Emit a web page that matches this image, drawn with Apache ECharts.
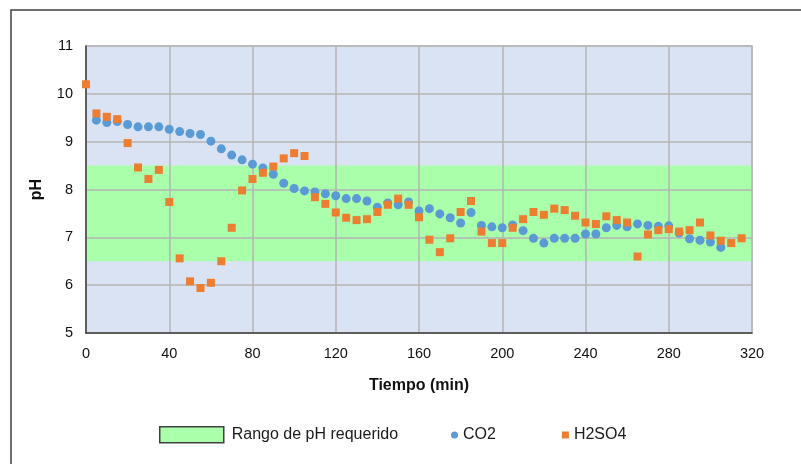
<!DOCTYPE html>
<html lang="es">
<head>
    <meta charset="UTF-8">
    <title>pH vs tiempo</title>
    <script src="https://cdn.jsdelivr.net/npm/echarts@6/dist/echarts.min.js"></script>
    <style>
        html, body { margin: 0; padding: 0; background: #fff; }
        #chart { width: 801px; height: 464px; }
    </style>
</head>
<body>
<div id="chart"></div>
<script>
    // tiempos (min) y valores de pH
    var tiempoCO2 = [5, 10, 15, 20, 25, 30, 35, 40, 45, 50, 55, 60, 65, 70, 75, 80, 85, 90, 95, 100,
        105, 110, 115, 120, 125, 130, 135, 140, 145, 150, 155, 160, 165, 170, 175, 180, 185, 190, 195, 200,
        205, 210, 215, 220, 225, 230, 235, 240, 245, 250, 255, 260, 265, 270, 275, 280, 285, 290, 295, 300, 305]
    var phCO2 = [9.45, 9.40, 9.42, 9.36, 9.31, 9.31, 9.31, 9.26, 9.21, 9.17, 9.15, 9.01, 8.85, 8.72, 8.62, 8.53, 8.45, 8.32, 8.13, 8.02,
        7.97, 7.95, 7.91, 7.87, 7.81, 7.81, 7.76, 7.63, 7.72, 7.68, 7.74, 7.55, 7.60, 7.49, 7.41, 7.30, 7.52, 7.25, 7.22, 7.20,
        7.26, 7.14, 6.98, 6.88, 6.98, 6.98, 6.98, 7.07, 7.07, 7.20, 7.25, 7.22, 7.28, 7.25, 7.23, 7.24, 7.09, 6.97, 6.94, 6.90, 6.79]

    var tiempoH2SO4 = [0, 5, 10, 15, 20, 25, 30, 35, 40, 45, 50, 55, 60, 65, 70, 75, 80, 85, 90, 95,
        100, 105, 110, 115, 120, 125, 130, 135, 140, 145, 150, 155, 160, 165, 170, 175, 180, 185, 190, 195,
        200, 205, 210, 215, 220, 225, 230, 235, 240, 245, 250, 255, 260, 265, 270, 275, 280, 285, 290, 295,
        300, 305, 310, 315]
    var phH2SO4 = [10.2, 9.59, 9.52, 9.47, 8.97, 8.46, 8.22, 8.41, 7.74, 6.56, 6.08, 5.94, 6.05, 6.50, 7.20, 7.98, 8.22, 8.35, 8.48, 8.65,
        8.76, 8.70, 7.84, 7.70, 7.52, 7.41, 7.36, 7.38, 7.53, 7.68, 7.81, 7.68, 7.42, 6.95, 6.69, 6.98, 7.53, 7.76, 7.12, 6.88,
        6.88, 7.20, 7.38, 7.53, 7.47, 7.60, 7.57, 7.45, 7.31, 7.28, 7.44, 7.36, 7.31, 6.60, 7.06, 7.15, 7.17, 7.12, 7.15, 7.31,
        7.04, 6.93, 6.88, 6.98]

    // rango de pH requerido
    var rangoPH = [6.5, 8.5]
    var ejeX = [0, 320, 40]
    var ejeY = [5, 11, 1]

    function pares(xs, ys) {
        var out = []
        for (var i = 0; i < xs.length; i++) {
            out.push([xs[i], ys[i]])
        }
        return out
    }

    var font = '"Liberation Sans", Arial, sans-serif'
    var chart = echarts.init(document.getElementById('chart'), null, {renderer: 'canvas'})

    chart.setOption({
        animation: false,
        graphic: [{
            type: 'rect',
            shape: {x: 11, y: 10, width: 820, height: 480},
            style: {fill: null, stroke: '#404040', lineWidth: 1.5},
            silent: true
        }],
        grid: {
            left: 86, top: 46, right: 49, bottom: 131,
            show: true,
            backgroundColor: '#dae3f3',
            borderColor: '#bfbfbf',
            borderWidth: 1.5
        },
        legend: [{
            left: 154, top: 421,
            itemWidth: 64, itemHeight: 16,
            textStyle: {fontFamily: font, fontSize: 16, color: '#1a1a1a', padding: [0, 0, 0, 3]},
            data: [{
                name: 'Rango de pH requerido',
                icon: 'rect',
                itemStyle: {color: '#aaffaa', borderColor: '#404040', borderWidth: 1.5}
            }]
        }, {
            left: 446, top: 422,
            itemWidth: 7, itemHeight: 7, itemGap: 66,
            textStyle: {fontFamily: font, fontSize: 16, color: '#1a1a1a'},
            data: [
                {name: 'CO2', icon: 'circle'},
                {name: 'H2SO4', icon: 'rect'}
            ]
        }],
        xAxis: {
            type: 'value',
            min: ejeX[0], max: ejeX[1], interval: ejeX[2],
            z: 1.5,
            name: 'Tiempo (min)',
            nameLocation: 'middle',
            nameGap: 45,
            nameTextStyle: {fontFamily: font, fontSize: 16, fontWeight: 'bold', color: '#111'},
            axisLine: {show: true, lineStyle: {color: '#404040', width: 1.5}},
            axisTick: {show: false},
            axisLabel: {fontFamily: font, fontSize: 14.5, color: '#111', margin: 13},
            splitLine: {show: true, lineStyle: {color: '#b4b4b4', width: 1.5}}
        },
        yAxis: {
            type: 'value',
            min: ejeY[0], max: ejeY[1], interval: ejeY[2],
            z: 1.5,
            name: 'pH',
            nameLocation: 'middle',
            nameGap: 41,
            nameTextStyle: {fontFamily: font, fontSize: 16, fontWeight: 'bold', color: '#111'},
            axisLine: {show: true, lineStyle: {color: '#404040', width: 1.5}},
            axisTick: {show: false},
            axisLabel: {fontFamily: font, fontSize: 14.5, color: '#111', margin: 13},
            splitLine: {show: true, lineStyle: {color: '#b4b4b4', width: 1.5}}
        },
        series: [{
            name: 'Rango de pH requerido',
            type: 'line',
            data: [],
            z: 1,
            itemStyle: {color: '#aaffaa'},
            markArea: {
                silent: true,
                itemStyle: {color: '#aaffaa', opacity: 1},
                data: [[{xAxis: ejeX[0], yAxis: rangoPH[0]}, {xAxis: ejeX[1], yAxis: rangoPH[1]}]]
            }
        }, {
            name: 'CO2',
            type: 'scatter',
            z: 3,
            symbol: 'circle',
            symbolSize: 9,
            itemStyle: {color: '#5b9bd5', opacity: 1},
            data: pares(tiempoCO2, phCO2)
        }, {
            name: 'H2SO4',
            type: 'scatter',
            z: 4,
            symbol: 'rect',
            symbolSize: 8,
            itemStyle: {color: '#ed7d31', opacity: 1},
            data: pares(tiempoH2SO4, phH2SO4)
        }]
    })
</script>
</body>
</html>
